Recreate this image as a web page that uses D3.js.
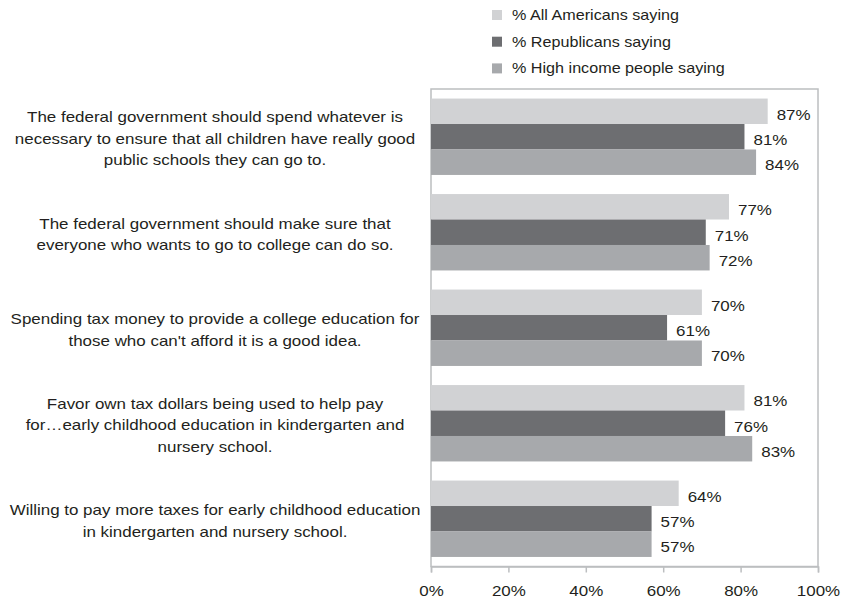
<!DOCTYPE html>
<html>
<head>
<meta charset="utf-8">
<script src="https://cdn.jsdelivr.net/npm/d3@7"></script>
<style>
  html, body { margin: 0; padding: 0; background: #fff; }
  svg { display: block; font-family: "Liberation Sans", Arial, Helvetica, sans-serif; }
</style>
</head>
<body>
<svg id="chart" width="846" height="602"></svg>
<script>
// Survey statements (one group of bars each), top to bottom
const statements = [
  ["The federal government should spend whatever is", "necessary to ensure that all children have really good", "public schools they can go to."],
  ["The federal government should make sure that", "everyone who wants to go to college can do so."],
  ["Spending tax money to provide a college education for", "those who can't afford it is a good idea."],
  ["Favor own tax dollars being used to help pay", "for\u2026early childhood education in kindergarten and", "nursery school."],
  ["Willing to pay more taxes for early childhood education", "in kindergarten and nursery school."]
];

const seriesNames = ["% All Americans saying", "% Republicans saying", "% High income people saying"];
const allAmericans = [87, 77, 70, 81, 64];
const republicans  = [81, 71, 61, 76, 57];
const highIncome   = [84, 72, 70, 83, 57];
const seriesValues = [allAmericans, republicans, highIncome];
const seriesColors = ["#d1d2d4", "#6d6e71", "#a7a9ac"];
const tickValues = [0, 20, 40, 60, 80, 100];

const svg = d3.select("#chart");
const plot = { left: 431, right: 818, top: 89, bottom: 566.5 };
const textColor = "#231f20";
const frameColor = "#bcbec0";
const stretch = 1.13; // wide grotesque lettering

const x = d3.scaleLinear().domain([0, 100]).range([plot.left, plot.right]);
const y = d3.scaleBand()
  .domain(d3.range(statements.length))
  .range([plot.top, plot.bottom])
  .paddingInner(0.2)
  .paddingOuter(0.1);
const ySeries = d3.scaleBand()
  .domain(d3.range(seriesNames.length))
  .range([0, y.bandwidth()]);

// Plot frame
svg.append("rect")
  .attr("x", plot.left).attr("y", plot.top)
  .attr("width", plot.right - plot.left).attr("height", plot.bottom - plot.top)
  .attr("fill", "none").attr("stroke", frameColor).attr("stroke-width", 1.5);

// Bars and value labels
const groups = svg.append("g").selectAll("g")
  .data(statements)
  .join("g")
  .attr("transform", (d, i) => `translate(0,${y(i)})`);

groups.each(function (d, i) {
  const g = d3.select(this);
  seriesValues.forEach((vals, s) => {
    const v = vals[i];
    g.append("rect")
      .attr("x", x(0))
      .attr("y", ySeries(s))
      .attr("width", x(v) - x(0))
      .attr("height", ySeries.bandwidth())
      .attr("fill", seriesColors[s]);
    g.append("text")
      .attr("transform", `translate(${x(v) + 9},${ySeries(s) + ySeries.bandwidth() / 2 + 3}) scale(${stretch},1)`)
      .attr("dy", "0.35em")
      .attr("fill", textColor)
      .attr("font-size", 15)
      .text(v + "%");
  });
});

// Category labels, centred to the left of the plot
const lineHeight = 21.5;
svg.append("g").selectAll("text")
  .data(statements)
  .join("text")
  .attr("text-anchor", "middle")
  .attr("fill", textColor)
  .attr("font-size", 15)
  .attr("transform", `translate(215,0) scale(${stretch},1)`)
  .each(function (lines, i) {
    const cy = y(i) + y.bandwidth() / 2 + 2;
    const startY = cy - (lines.length - 1) * lineHeight / 2;
    d3.select(this).selectAll("tspan")
      .data(lines)
      .join("tspan")
      .attr("x", 0)
      .attr("y", (l, k) => startY + k * lineHeight)
      .attr("dy", "0.35em")
      .text(l => l);
  });

// X axis
const xAxis = d3.axisBottom(x)
  .tickValues(tickValues)
  .tickFormat(d => d + "%")
  .tickSize(6)
  .tickPadding(13);
const axisG = svg.append("g")
  .attr("transform", `translate(0,${plot.bottom})`)
  .call(xAxis);
axisG.select(".domain").attr("stroke", frameColor).attr("stroke-width", 1.5);
axisG.selectAll(".tick line").attr("stroke", frameColor).attr("stroke-width", 1.5);
axisG.selectAll(".tick text")
  .attr("fill", textColor)
  .attr("font-size", 15)
  .attr("transform", `scale(${stretch},1)`)
  .attr("font-family", "'Liberation Sans', Arial, Helvetica, sans-serif");

// Legend
const legend = svg.append("g").selectAll("g")
  .data(seriesNames)
  .join("g")
  .attr("transform", (d, i) => `translate(492,${15 + i * 26.7})`);
legend.append("rect")
  .attr("x", 0).attr("y", -5)
  .attr("width", 10).attr("height", 10)
  .attr("fill", (d, i) => seriesColors[i]);
legend.append("text")
  .attr("transform", `translate(20,0) scale(${stretch},1)`)
  .attr("dy", "0.35em")
  .attr("fill", textColor)
  .attr("font-size", 14.3)
  .text(d => d);
</script>
</body>
</html>
